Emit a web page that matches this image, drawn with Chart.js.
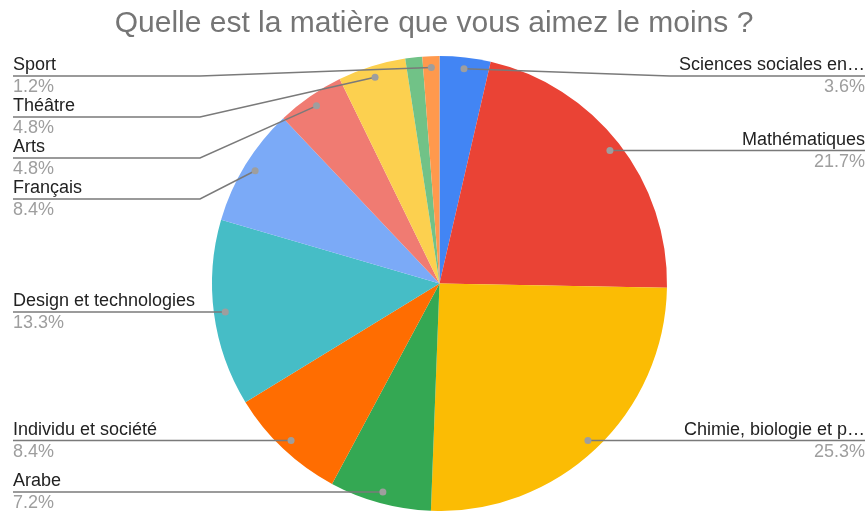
<!DOCTYPE html>
<html>
<head>
<meta charset="utf-8">
<script src="https://cdn.jsdelivr.net/npm/chart.js@4"></script>
<style>
  html, body { margin: 0; padding: 0; background: #fff; }
  #wrap { width: 868px; height: 511px; position: relative; }
</style>
</head>
<body>
<div id="wrap"><canvas id="pieChart" width="868" height="511"></canvas></div>
<script>
// Chart data (answers counted per subject)
const chartTitle = 'Quelle est la matière que vous aimez le moins ?';
const categories = [
    'Sciences sociales en…',
    'Mathématiques',
    'Chimie, biologie et p…',
    'Arabe',
    'Individu et société',
    'Design et technologies',
    'Français',
    'Arts',
    'Théâtre',
    'Autre',
    'Sport'
];
const counts = [3, 18, 21, 6, 7, 11, 7, 4, 4, 1, 1];
const sliceColors = [
    '#4285F4', '#EA4335', '#FBBC04', '#34A853', '#FF6D01', '#46BDC6',
    '#7BAAF7', '#F07B72', '#FCD04F', '#71C287', '#FF994D'
];
// slices without an outside label (no room for it in the original)
const unlabeled = ['Autre'];

const total = counts.reduce((a, b) => a + b, 0);

// Title + leader lines + outside labels
const calloutPlugin = {
    id: 'callouts',
    afterDraw(chart) {
        const ctx = chart.ctx;
        const W = chart.width;

        ctx.save();
        ctx.fillStyle = '#757575';
        ctx.font = '30px "Liberation Sans", Arial, sans-serif';
        ctx.textAlign = 'center';
        ctx.textBaseline = 'alphabetic';
        ctx.fillText(chartTitle, W / 2, 32);

        const arcs = chart.getDatasetMeta(0).data;
        const left = [], right = [];
        arcs.forEach((arc, i) => {
            if (unlabeled.includes(categories[i])) return;
            const mid = (arc.startAngle + arc.endAngle) / 2;
            const r = arc.outerRadius * 0.95;
            const dx = arc.x + Math.cos(mid) * r;
            const dy = arc.y + Math.sin(mid) * r;
            const item = { i, dx, dy, y: dy };
            (dx < arc.x ? left : right).push(item);
        });

        // stack labels so they do not overlap
        const gap = 41, minY = 76, maxY = 492;
        [left, right].forEach(side => {
            side.sort((a, b) => a.dy - b.dy);
            let prev = -Infinity;
            side.forEach(it => {
                it.y = Math.max(it.dy, minY, prev + gap);
                prev = it.y;
            });
            for (let k = side.length - 1; k >= 0; k--) {
                const lim = k === side.length - 1 ? maxY : side[k + 1].y - gap;
                side[k].y = Math.min(side[k].y, lim);
            }
        });

        const textLeft = 13, textRight = W - 3;
        const elbowLeft = 200, elbowRight = 670;

        function drawItem(it, isLeft) {
            const edge = isLeft ? textLeft : textRight;
            const elbow = isLeft ? elbowLeft : elbowRight;
            ctx.strokeStyle = '#7a7a7a';
            ctx.lineWidth = 1.5;
            ctx.beginPath();
            ctx.moveTo(edge, it.y);
            if (Math.abs(it.y - it.dy) > 0.5) {
                ctx.lineTo(elbow, it.y);
            }
            ctx.lineTo(it.dx, it.dy);
            ctx.stroke();

            ctx.fillStyle = '#9e9e9e';
            ctx.beginPath();
            ctx.arc(it.dx, it.dy, 3.5, 0, Math.PI * 2);
            ctx.fill();

            ctx.textAlign = isLeft ? 'left' : 'right';
            ctx.font = '18px "Liberation Sans", Arial, sans-serif';
            ctx.fillStyle = '#222222';
            ctx.fillText(categories[it.i], edge, it.y - 6);
            ctx.fillStyle = '#9e9e9e';
            ctx.fillText((counts[it.i] / total * 100).toFixed(1) + '%', edge, it.y + 16);
        }
        left.forEach(it => drawItem(it, true));
        right.forEach(it => drawItem(it, false));
        ctx.restore();
    }
};

new Chart(document.getElementById('pieChart').getContext('2d'), {
    type: 'pie',
    data: {
        labels: categories,
        datasets: [{
            data: counts,
            backgroundColor: sliceColors,
            borderWidth: 0
        }]
    },
    options: {
        responsive: false,
        animation: false,
        layout: {
            padding: { top: 56, bottom: 0, left: 11, right: 0 }
        },
        plugins: {
            legend: { display: false },
            tooltip: { enabled: false },
            title: { display: false }
        }
    },
    plugins: [calloutPlugin]
});
</script>
</body>
</html>
